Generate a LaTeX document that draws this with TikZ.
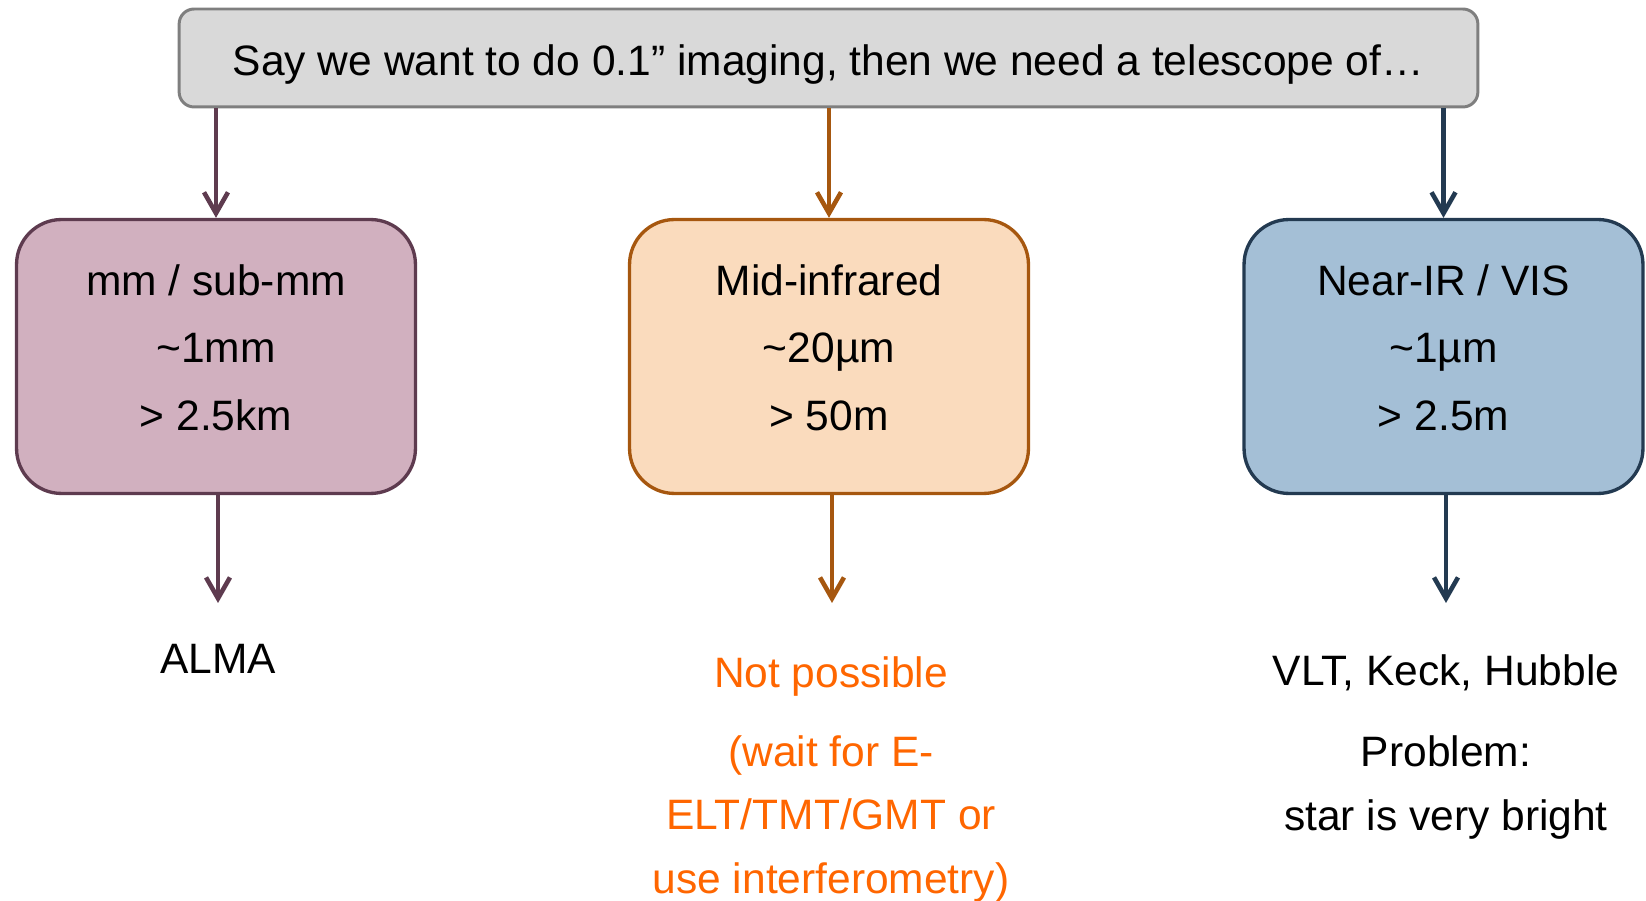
\documentclass[tikz,border=0pt]{standalone}
\usepackage{fontspec}
\setmainfont{Liberation Sans}
\usepackage{tikz}
\usetikzlibrary{arrows.meta}
\definecolor{greyfill}{HTML}{D9D9D9}
\definecolor{greyline}{HTML}{7F7F7F}
\definecolor{plumfill}{HTML}{D1B0BF}
\definecolor{plumline}{HTML}{5E3B4F}
\definecolor{peachfill}{HTML}{FADBBD}
\definecolor{peachline}{HTML}{A6570F}
\definecolor{bluefill}{HTML}{A4BFD6}
\definecolor{blueline}{HTML}{233A51}
\definecolor{warnorange}{HTML}{FF6600}
\tikzset{band/.style={draw,rounded corners=0.9cm,line width=1.9pt,minimum width=7.98cm,minimum height=5.48cm,align=center,
  execute at end node={\rule[-0.36cm]{0pt}{0pt}}}}

\begin{document}
\begin{tikzpicture}[x=0.02cm, y=-0.02cm, ->, >={Straight Barb[length=0.42cm,width=0.48cm]}, line width=2.6pt]
        \tikzstyle{every node}=[font=\fontsize{24.2pt}{38.5pt}\selectfont]
        \tikzstyle{answer}=[anchor=base,align=center,font=\fontsize{24.2pt}{36pt}\selectfont]
        \useasboundingbox (0,0) rectangle (1646,901);
        \node[draw=greyline,fill=greyfill,line width=1.7pt,rounded corners=0.3cm,minimum width=25.98cm,minimum height=1.96cm,text height=0.72cm,text depth=0cm] (goal) at (828.5,58) {Say we want to do 0.1” imaging, then we need a telescope of…};
        \node[band,draw=plumline,fill=plumfill] (mm) at (216,356.5) {mm / sub-mm\\ \textasciitilde1mm\\ > 2.5km};
        \node[band,draw=peachline,fill=peachfill] (mir) at (829,356.5) {Mid-infrared\\ \textasciitilde20µm\\ > 50m};
        \node[band,draw=blueline,fill=bluefill] (nir) at (1443.5,356.5) {Near-IR / VIS\\ \textasciitilde1µm\\ > 2.5m};
        \coordinate (mmend) at (218,603);
        \coordinate (mirend) at (832,603);
        \coordinate (nirend) at (1446,603);
        \node[answer] (alma) at (218,673) {ALMA};
        \node[answer,text=warnorange] (nogo) at (831,687) {Not possible};
        \node[answer,text=warnorange] (wait) at (831,893) {(wait for E-\\ELT/TMT/GMT or\\use interferometry)};
        \node[answer] (scopes) at (1446,685) {VLT, Keck, Hubble};
        \node[answer] (problem) at (1446,830) {Problem:\\star is very bright};
        \path (goal.south -| mm.north) edge[plumline] (mm.north);
        \path (goal.south -| mir.north) edge[peachline] (mir.north);
        \path (goal.south -| nir.north) edge[blueline] (nir.north);
        \path (mm.south -| mmend) edge[plumline] (mmend);
        \path (mir.south -| mirend) edge[peachline] (mirend);
        \path (nir.south -| nirend) edge[blueline] (nirend);
\end{tikzpicture}
\end{document}
